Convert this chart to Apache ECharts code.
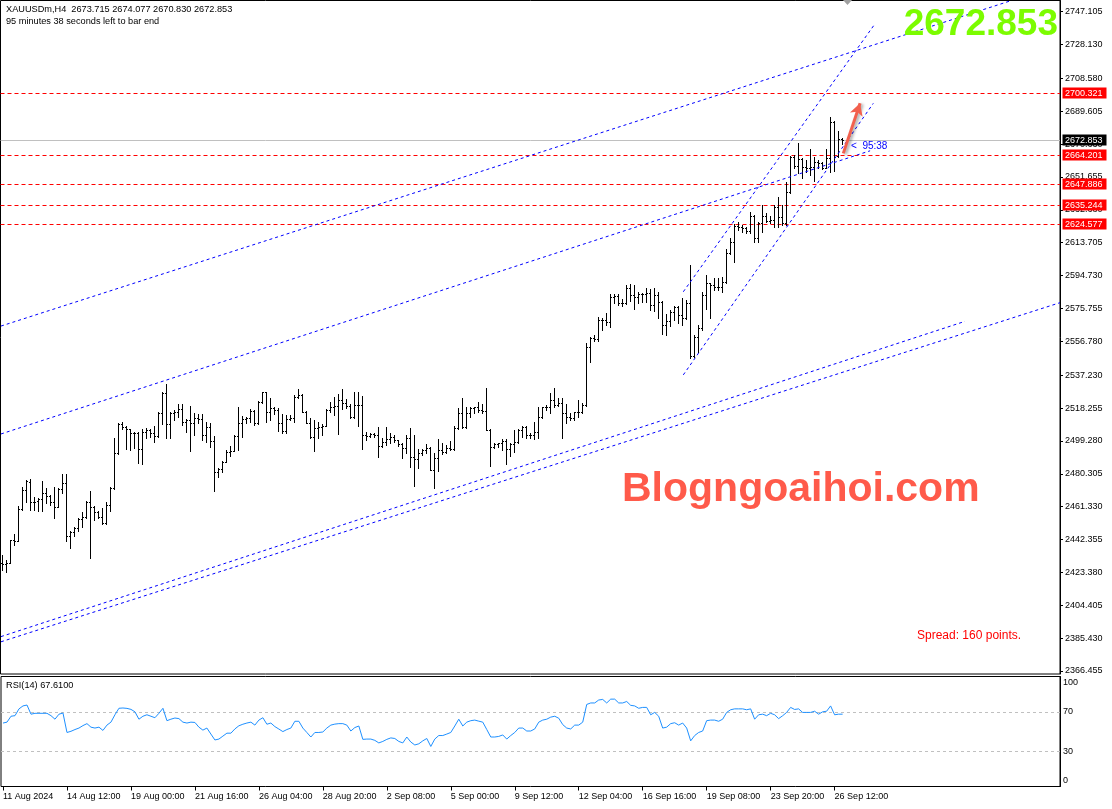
<!DOCTYPE html>
<html><head><meta charset="utf-8">
<script src="https://cdn.jsdelivr.net/npm/echarts@6/dist/echarts.min.js"></script>
<style>html,body{margin:0;padding:0;background:#fff}#c{width:1112px;height:809px}</style>
</head><body><div id="c"></div>
<script>
// ---------- DATA ----------
const timeLabels = ["11 Aug 2024","14 Aug 12:00","19 Aug 00:00","21 Aug 16:00","26 Aug 04:00","28 Aug 20:00","2 Sep 08:00","5 Sep 00:00","9 Sep 12:00","12 Sep 04:00","16 Sep 16:00","19 Sep 08:00","23 Sep 20:00","26 Sep 12:00"];
const timeLabelBars = [0,16,32,48,64,80,96,112,128,144,160,176,192,208];
const priceTicks = [2747.105,2728.130,2708.580,2689.605,2670.630,2651.655,2632.680,2613.705,2594.730,2575.755,2556.780,2537.230,2518.255,2499.280,2480.305,2461.330,2442.355,2423.380,2404.405,2385.430,2366.455];
const rsiTicks = [0,30,70,100];
const rsiLevels = [70,30];

const openP = [
2428.6,2428.2,2429.0,2442.1,2441.7,2459.8,2470.9,2475.7,2464.2,2464.8,
2466.0,2469.4,2467.5,2464.2,2461.3,2471.3,2474.8,2444.4,2446.9,2448.8,
2454.3,2455.5,2463.8,2461.3,2458.4,2455.5,2451.7,2462.3,2472.3,2492.1,
2509.0,2507.5,2506.0,2503.7,2503.9,2494.4,2504.6,2505.6,2503.7,2502.1,
2515.2,2526.8,2509.0,2515.6,2516.2,2517.5,2510.4,2511.5,2509.4,2512.3,
2511.7,2502.7,2507.1,2499.4,2481.5,2482.9,2487.3,2493.1,2493.5,2502.1,
2509.8,2511.7,2512.3,2516.7,2509.4,2521.5,2527.3,2515.8,2518.1,2517.1,
2509.4,2505.0,2511.9,2512.3,2524.8,2525.8,2516.2,2509.8,2501.7,2506.5,
2507.5,2508.1,2517.1,2519.1,2519.6,2522.9,2521.0,2519.4,2513.3,2520.0,
2520.2,2502.7,2502.3,2503.1,2502.7,2496.3,2498.8,2500.4,2501.7,2499.8,
2497.3,2495.4,2501.2,2490.2,2488.6,2492.1,2493.8,2495.0,2482.6,2489.2,
2494.0,2493.1,2495.0,2494.8,2506.5,2515.2,2507.5,2515.2,2518.1,2518.7,
2517.1,2516.7,2505.8,2496.0,2497.5,2497.9,2499.4,2494.6,2497.7,2498.8,
2505.7,2507.5,2502.7,2502.5,2504.6,2513.3,2518.7,2519.1,2522.9,2520.0,
2521.4,2515.2,2513.3,2512.7,2515.9,2516.2,2520.0,2553.3,2558.5,2558.1,
2569.1,2569.3,2567.7,2582.6,2583.0,2578.7,2578.9,2587.4,2583.5,2582.6,
2584.1,2584.0,2584.5,2577.8,2583.5,2579.7,2566.2,2568.7,2573.9,2576.8,
2572.0,2570.1,2579.1,2548.3,2559.5,2564.3,2583.5,2590.3,2589.3,2588.3,
2588.0,2591.2,2607.6,2614.3,2623.4,2622.6,2622.0,2620.7,2629.2,2616.2,
2624.9,2629.3,2626.5,2626.8,2634.5,2628.8,2624.9,2643.2,2663.4,2658.0,
2661.9,2657.2,2657.0,2657.6,2660.5,2659.6,2657.1,2662.4,2683.6,2664.0,
2673.715];
const highP = [
2433.4,2430.5,2442.1,2445.5,2461.7,2472.5,2476.7,2477.3,2467.1,2466.1,
2476.1,2471.9,2468.0,2472.5,2471.9,2480.0,2480.2,2447.5,2449.8,2454.6,
2458.4,2464.6,2470.4,2461.5,2458.6,2460.7,2464.2,2472.9,2501.2,2509.8,
2510.4,2507.9,2506.2,2504.2,2504.6,2506.0,2506.5,2506.0,2508.1,2515.8,
2527.3,2532.1,2516.2,2517.1,2520.6,2520.4,2511.7,2519.4,2515.2,2514.6,
2514.6,2510.4,2509.4,2502.0,2483.4,2487.7,2494.0,2496.3,2502.7,2518.7,
2513.7,2513.3,2517.5,2517.1,2522.3,2527.7,2527.7,2523.9,2519.1,2518.1,
2514.6,2514.2,2514.2,2525.8,2529.1,2526.2,2516.5,2512.3,2511.4,2510.4,
2508.8,2517.5,2521.9,2524.8,2526.4,2529.1,2523.3,2520.4,2527.7,2527.7,
2525.4,2504.6,2504.0,2504.0,2507.5,2501.2,2507.5,2503.7,2502.7,2500.1,
2497.9,2502.7,2506.9,2502.7,2494.6,2494.8,2497.5,2496.0,2492.1,2500.2,
2497.9,2496.9,2499.4,2507.9,2518.1,2524.3,2519.1,2518.7,2519.1,2521.9,
2520.6,2530.0,2506.0,2498.3,2498.3,2500.4,2500.2,2497.9,2505.6,2506.0,
2507.9,2507.9,2504.0,2510.2,2519.1,2519.0,2520.0,2527.1,2529.6,2524.3,
2524.3,2520.4,2515.2,2516.2,2522.9,2521.0,2556.0,2559.5,2560.4,2571.0,
2570.4,2573.3,2583.9,2583.9,2583.9,2581.0,2589.3,2589.7,2589.5,2585.5,
2584.9,2587.4,2587.0,2587.4,2585.5,2580.3,2572.6,2574.9,2577.2,2577.2,
2581.6,2580.6,2600.9,2560.4,2566.2,2585.5,2595.1,2590.7,2593.2,2593.2,
2594.1,2609.9,2616.2,2624.3,2625.9,2624.0,2623.0,2631.7,2629.7,2625.9,
2635.5,2630.7,2629.2,2635.5,2640.3,2635.5,2649.0,2664.0,2664.4,2671.1,
2662.4,2661.5,2667.6,2663.4,2661.5,2660.5,2667.6,2686.1,2684.2,2678.5,
2674.077];
const lowP = [
2424.7,2423.8,2428.6,2439.2,2441.5,2459.4,2464.2,2459.4,2459.4,2459.0,
2459.0,2463.2,2462.3,2455.0,2461.0,2469.4,2441.7,2437.6,2444.4,2447.5,
2449.8,2454.6,2431.9,2453.6,2454.6,2451.1,2451.1,2458.8,2471.5,2491.8,
2506.0,2494.6,2494.0,2495.0,2486.7,2485.8,2500.8,2501.7,2498.8,2501.8,
2509.0,2500.8,2500.8,2511.4,2513.3,2508.5,2504.6,2493.6,2502.7,2509.4,
2499.8,2498.8,2496.0,2470.5,2478.6,2481.5,2486.9,2490.6,2493.3,2494.0,
2501.7,2509.4,2510.4,2508.5,2508.8,2521.0,2510.4,2511.4,2514.6,2505.0,
2504.0,2503.7,2511.4,2510.4,2523.9,2515.8,2509.4,2500.8,2493.5,2500.8,
2502.7,2507.8,2515.8,2514.2,2503.3,2517.5,2518.1,2512.3,2512.3,2507.9,
2494.4,2499.8,2501.7,2501.7,2490.2,2496.0,2496.9,2497.9,2498.8,2496.5,
2489.6,2492.5,2484.4,2473.4,2483.8,2491.3,2492.1,2482.5,2471.9,2481.9,
2491.5,2492.1,2494.0,2494.0,2506.0,2506.5,2506.5,2513.3,2515.6,2516.2,
2515.6,2505.6,2484.8,2495.0,2495.6,2494.0,2485.8,2490.6,2493.1,2497.9,
2501.7,2501.2,2501.2,2500.2,2500.8,2512.3,2517.1,2515.2,2519.1,2519.4,
2500.8,2509.8,2511.4,2511.4,2513.3,2515.6,2519.4,2545.0,2557.0,2557.2,
2563.3,2566.2,2565.2,2579.1,2577.8,2577.4,2578.3,2580.0,2575.3,2578.7,
2579.7,2579.7,2574.9,2574.5,2570.1,2560.8,2560.4,2565.6,2569.1,2567.2,
2566.2,2569.5,2547.0,2547.9,2550.8,2563.3,2575.3,2570.1,2586.4,2586.4,
2585.5,2590.7,2607.2,2602.8,2621.1,2619.7,2619.1,2619.1,2614.3,2614.3,
2620.1,2625.9,2624.9,2623.0,2623.0,2624.0,2623.9,2642.6,2656.7,2653.8,
2650.9,2654.7,2652.8,2649.6,2656.7,2656.1,2656.7,2654.7,2655.1,2663.0,
2670.830];
const closeP = [
2428.2,2429.0,2442.1,2441.7,2459.8,2470.9,2476.3,2464.2,2464.0,2465.9,
2469.4,2467.5,2464.2,2461.3,2471.3,2474.8,2444.4,2446.9,2448.8,2454.3,
2455.5,2463.8,2461.3,2458.4,2455.5,2451.7,2462.3,2472.3,2492.1,2509.0,
2507.5,2506.0,2503.7,2503.9,2494.4,2504.6,2505.6,2503.7,2502.1,2515.2,
2526.8,2509.0,2515.6,2516.2,2517.5,2510.4,2511.5,2509.4,2512.3,2511.7,
2502.7,2507.1,2499.4,2481.5,2482.9,2487.3,2493.1,2493.5,2502.1,2509.8,
2511.7,2512.3,2516.7,2509.4,2521.5,2527.3,2515.8,2518.1,2517.1,2509.4,
2505.0,2511.9,2512.3,2524.8,2525.8,2516.2,2509.8,2501.7,2506.5,2507.5,
2508.1,2517.1,2519.1,2519.6,2522.9,2521.0,2519.4,2513.3,2520.0,2520.2,
2502.7,2502.3,2503.1,2502.7,2496.3,2498.8,2500.4,2501.7,2499.8,2497.3,
2495.4,2501.2,2490.2,2488.6,2492.1,2493.8,2495.0,2482.6,2489.2,2494.0,
2493.1,2495.0,2494.8,2506.5,2515.2,2507.5,2515.2,2518.1,2518.7,2517.1,
2516.7,2505.8,2496.0,2497.5,2497.9,2499.4,2494.6,2497.7,2498.8,2505.7,
2507.5,2502.7,2502.5,2504.6,2513.3,2518.7,2519.1,2522.9,2520.0,2521.4,
2515.2,2513.3,2512.7,2515.9,2516.2,2520.0,2553.3,2558.5,2558.1,2569.1,
2569.3,2567.7,2582.6,2583.0,2578.7,2578.9,2587.4,2583.5,2582.6,2584.1,
2584.0,2584.5,2577.8,2583.5,2579.7,2566.2,2568.7,2573.9,2576.8,2572.0,
2570.1,2579.1,2548.3,2559.5,2564.3,2583.5,2590.3,2589.3,2588.3,2588.0,
2591.2,2607.6,2614.3,2623.4,2622.6,2622.0,2620.7,2629.2,2616.2,2624.9,
2629.3,2626.5,2626.8,2634.5,2628.8,2624.9,2643.2,2663.4,2658.0,2661.9,
2657.2,2657.0,2657.6,2660.5,2659.6,2657.1,2662.4,2683.6,2663.4,2673.7,
2672.853];
const rsiValues = [
58.6,59.5,65.5,66.1,73.0,76.0,76.9,67.6,68.5,68.5,
68.5,68.5,66.1,62.5,67.6,68.8,49.0,50.2,52.0,53.5,
56.0,58.0,54.4,53.5,54.4,51.1,56.5,59.5,67.0,73.6,
73.9,73.5,72.5,70.0,62.5,65.5,67.0,65.5,64.0,68.5,
73.6,61.0,62.5,63.7,63.1,59.5,58.6,59.5,59.2,54.4,
51.4,53.5,47.4,41.4,42.3,45.3,48.3,48.3,52.6,55.8,
57.4,58.6,59.5,56.5,61.6,64.0,57.4,58.6,55.0,52.5,
49.9,52.0,53.5,60.4,60.4,53.5,49.0,44.4,49.0,49.0,
49.5,53.5,56.5,57.5,58.0,58.0,56.5,50.5,54.0,55.6,
42.0,42.3,42.3,41.0,38.4,39.9,42.0,43.5,42.9,39.9,
38.4,44.4,39.3,36.3,37.5,40.5,42.9,34.8,42.3,45.9,
45.9,47.4,49.0,55.6,62.5,55.6,59.5,61.0,61.6,60.5,
59.5,52.0,44.4,44.4,45.0,46.5,42.3,45.9,49.0,53.5,
53.5,50.5,50.5,52.6,59.5,61.6,62.5,64.6,65.5,63.5,
57.0,53.5,52.6,56.5,56.5,59.5,77.5,79.0,79.0,82.0,
82.6,79.0,82.9,82.9,79.0,79.0,80.5,76.6,76.0,73.6,
74.5,74.5,67.0,69.4,65.5,53.5,54.4,58.0,58.9,56.5,
58.6,53.5,40.5,45.9,49.0,50.5,61.0,61.6,61.6,60.4,
62.5,69.4,72.1,73.0,73.0,73.0,72.1,73.0,62.5,67.0,
67.6,66.1,68.5,67.0,63.1,66.0,69.4,74.5,72.4,73.0,
69.4,69.4,69.4,70.6,67.6,70.0,70.6,76.0,67.0,67.6,
67.61];

// horizontal price levels (red dashed) and current bid
const levelPrices = [2700.321, 2664.201, 2647.886, 2635.244, 2624.577];
const bidPrice = 2672.853;
// trend lines: [barIndexStart, priceStart, barIndexEnd, priceEnd]
const trendUpperLong = [-0.375, 2565.6, 251.9, 2753.3];
const trendMiddleLong = [-0.375, 2503.3, 216.9, 2666.8];
const trendSteepUpper = [170.2, 2585.4, 217.9, 2739.4];
const trendSteepLower = [170.2, 2537.4, 217.7, 2694.2];
const trendLowerA = [-0.375, 2386.3, 240.6, 2568.3];
const trendLowerB = [-0.375, 2383.3, 264.375, 2579.1];
const arrowLine = [210.2, 2665.3, 214.4, 2694.2];

// ---------- CHART ----------
const FONT = '"Liberation Sans", Arial, sans-serif';
const ohlc = openP.map((o, i) => [i, o, highP[i], lowP[i], closeP[i]]);
const trendSets = [trendUpperLong, trendMiddleLong, trendSteepUpper, trendSteepLower, trendLowerA, trendLowerB];

const chart = echarts.init(document.getElementById('c'), null, {renderer: 'canvas'});

const trendSeries = trendSets.map(t => ({
  type: 'line', xAxisIndex: 0, yAxisIndex: 0, silent: true, animation: false,
  data: [[t[0], t[1]], [t[2], t[3]]], showSymbol: false, symbol: 'none', z: 4,
  lineStyle: {color: '#0000ff', width: 1, type: [3, 3]}
}));

// level rows: [price, kind] kind 0 = red level, 1 = bid
const levelRows = levelPrices.map(v => [0, v, 0]).concat([[0, bidPrice, 1]]);

function levelRender(params, api) {
  const v = api.value(1);
  const kind = api.value(2);
  const cs = params.coordSys;
  const yl = Math.round(api.coord([0, v])[1]) + 0.5;
  const right = cs.x + cs.width;
  const lineStyle = kind === 0
    ? {stroke: '#ff0000', lineWidth: 1, lineDash: [4, 3]}
    : {stroke: '#c0c0c0', lineWidth: 1};
  return {type: 'group', children: [
    {type: 'line', shape: {x1: cs.x, y1: yl, x2: right, y2: yl}, style: lineStyle, z2: kind === 1 ? 1 : 2},
    {type: 'rect', shape: {x: right + 2.5, y: yl - 6, width: 44, height: 11}, style: {fill: kind === 0 ? '#ff0000' : '#000000'}, z2: 10},
    {type: 'text', x: right + 5, y: yl, style: {text: v.toFixed(3), fill: '#ffffff', font: '9px ' + FONT, verticalAlign: 'middle'}, z2: 11}
  ]};
}

function rsiLevelRender(params, api) {
  const v = api.value(1);
  const cs = params.coordSys;
  const yl = Math.round(api.coord([0, v])[1]) + 0.5;
  return {type: 'line', shape: {x1: cs.x, y1: yl, x2: cs.x + cs.width, y2: yl}, style: {stroke: '#c0c0c0', lineWidth: 1, lineDash: [3, 3]}};
}

const option = {
  animation: false,
  backgroundColor: '#ffffff',
  grid: [
    {left: 0.5, right: 52, top: 0.5, height: 673.5, show: true, borderColor: '#000', borderWidth: 1, backgroundColor: 'transparent'},
    {left: 0.5, right: 52, top: 676.5, height: 110, show: true, borderColor: '#000', borderWidth: 1, backgroundColor: 'transparent'}
  ],
  xAxis: [
    {type: 'value', gridIndex: 0, min: -0.5, max: 264.375, axisLine: {show: false, onZero: false}, axisTick: {show: false}, axisLabel: {show: false}, splitLine: {show: false}},
    {type: 'value', gridIndex: 1, min: -0.5, max: 264.375, position: 'bottom', axisLine: {show: false, onZero: false},
      axisTick: {show: true, customValues: timeLabelBars, length: 4, lineStyle: {color: '#000'}},
      axisLabel: {show: true, customValues: timeLabelBars, align: 'left', margin: 6, fontSize: 9, fontFamily: FONT, color: '#000',
        formatter: v => { const k = timeLabelBars.indexOf(Math.round(v)); return k >= 0 ? timeLabels[k] : ''; }},
      splitLine: {show: false}}
  ],
  yAxis: [
    {type: 'value', gridIndex: 0, position: 'right', min: 2364.71, max: 2753.57,
      axisLine: {show: true, onZero: false, lineStyle: {color: '#000'}},
      axisTick: {show: true, customValues: priceTicks, length: 3, lineStyle: {color: '#000'}},
      axisLabel: {show: true, customValues: priceTicks, margin: 5, fontSize: 9, fontFamily: FONT, color: '#000', formatter: v => v.toFixed(3)},
      splitLine: {show: false}},
    {type: 'value', gridIndex: 1, position: 'right', min: -5.9, max: 105.9,
      axisLine: {show: true, onZero: false, lineStyle: {color: '#000'}},
      axisTick: {show: false},
      axisLabel: {show: true, customValues: rsiTicks, margin: 3, fontSize: 9, fontFamily: FONT, color: '#000'},
      splitLine: {show: false}}
  ],
  series: [
    {
      type: 'custom', name: 'levels', xAxisIndex: 0, yAxisIndex: 0, z: 2, silent: true, clip: false,
      data: levelRows, encode: {x: 0, y: 1}, renderItem: levelRender
    },
    {
      type: 'custom', name: 'XAUUSDm', xAxisIndex: 0, yAxisIndex: 0, z: 3, silent: true,
      data: ohlc, encode: {x: 0, y: [1, 2, 3, 4]}, clip: true,
      renderItem: function (params, api) {
        const i = api.value(0);
        const pO = api.coord([i, api.value(1)]);
        const pH = api.coord([i, api.value(2)]);
        const pL = api.coord([i, api.value(3)]);
        const pC = api.coord([i, api.value(4)]);
        const x = Math.floor(pO[0]) + 0.5;
        const yH = Math.round(pH[1]), yL = Math.round(pL[1]);
        const yO = Math.round(pO[1]) + 0.5, yC = Math.round(pC[1]) + 0.5;
        const st = {stroke: '#000', lineWidth: 1};
        return {type: 'group', children: [
          {type: 'line', shape: {x1: x, y1: yH, x2: x, y2: yL + 1}, style: st},
          {type: 'line', shape: {x1: x - 1.5, y1: yO, x2: x - 0.5, y2: yO}, style: st},
          {type: 'line', shape: {x1: x + 0.5, y1: yC, x2: x + 1.5, y2: yC}, style: st}
        ]};
      }
    },
    ...trendSeries,
    {
      type: 'line', xAxisIndex: 0, yAxisIndex: 0, data: [], silent: true, z: 6,
      markLine: {silent: true, animation: false, symbol: ['none', 'arrow'], symbolSize: [10, 12],
        data: [[{coord: [arrowLine[0], arrowLine[1]]}, {coord: [arrowLine[2], arrowLine[3]]}]],
        lineStyle: {color: '#f2604e', width: 3, type: 'solid', shadowColor: 'rgba(0,0,0,0.35)', shadowBlur: 3, shadowOffsetX: 2, shadowOffsetY: 1},
        label: {show: false}}
    },
    {
      type: 'custom', name: 'rsiLevels', xAxisIndex: 1, yAxisIndex: 1, z: 2, silent: true,
      data: rsiLevels.map(v => [0, v]), encode: {x: 0, y: 1}, renderItem: rsiLevelRender
    },
    {
      type: 'line', name: 'RSI(14)', xAxisIndex: 1, yAxisIndex: 1, silent: true, z: 3,
      data: rsiValues.map((v, i) => [i, v]), showSymbol: false, symbol: 'none',
      lineStyle: {color: '#1e90ff', width: 1}
    }
  ],
  graphic: [
    {type: 'text', x: 6, y: 9, silent: true, style: {text: 'XAUUSDm,H4  2673.715 2674.077 2670.830 2672.853', font: '9.2px ' + FONT, fill: '#000', verticalAlign: 'middle'}},
    {type: 'text', x: 6, y: 21, silent: true, style: {text: '95 minutes 38 seconds left to bar end', font: '9.2px ' + FONT, fill: '#000', verticalAlign: 'middle'}},
    {type: 'text', x: 6, y: 685, silent: true, style: {text: 'RSI(14) 67.6100', font: '9.2px ' + FONT, fill: '#000', verticalAlign: 'middle'}},
    {type: 'text', x: 1058, y: 25, silent: true, z: 10, style: {text: '2672.853', font: 'bold 37px ' + FONT, fill: '#7cfc00', textAlign: 'right', verticalAlign: 'middle'}},
    {type: 'text', x: 622, y: 490, silent: true, z: 10, style: {text: 'Blogngoaihoi.com', font: 'bold 41px ' + FONT, fill: '#ff5a4a', verticalAlign: 'middle',
      shadowColor: 'rgba(0,0,0,0.45)', shadowBlur: 2, shadowOffsetX: 3, shadowOffsetY: 3}},
    {type: 'text', x: 917, y: 636, silent: true, style: {text: 'Spread: 160 points.', font: '12px ' + FONT, fill: '#ff0000', verticalAlign: 'middle'}},
    {type: 'text', x: 851, y: 146, silent: true, z: 10, style: {text: '<  95:38', font: '10px ' + FONT, fill: '#0000ff', verticalAlign: 'middle'}},
    {type: 'polygon', silent: true, shape: {points: [[843, 0], [852, 0], [847.5, 5]]}, style: {fill: '#a0a0a0'}}
  ]
};
chart.setOption(option);
</script>
</body></html>
